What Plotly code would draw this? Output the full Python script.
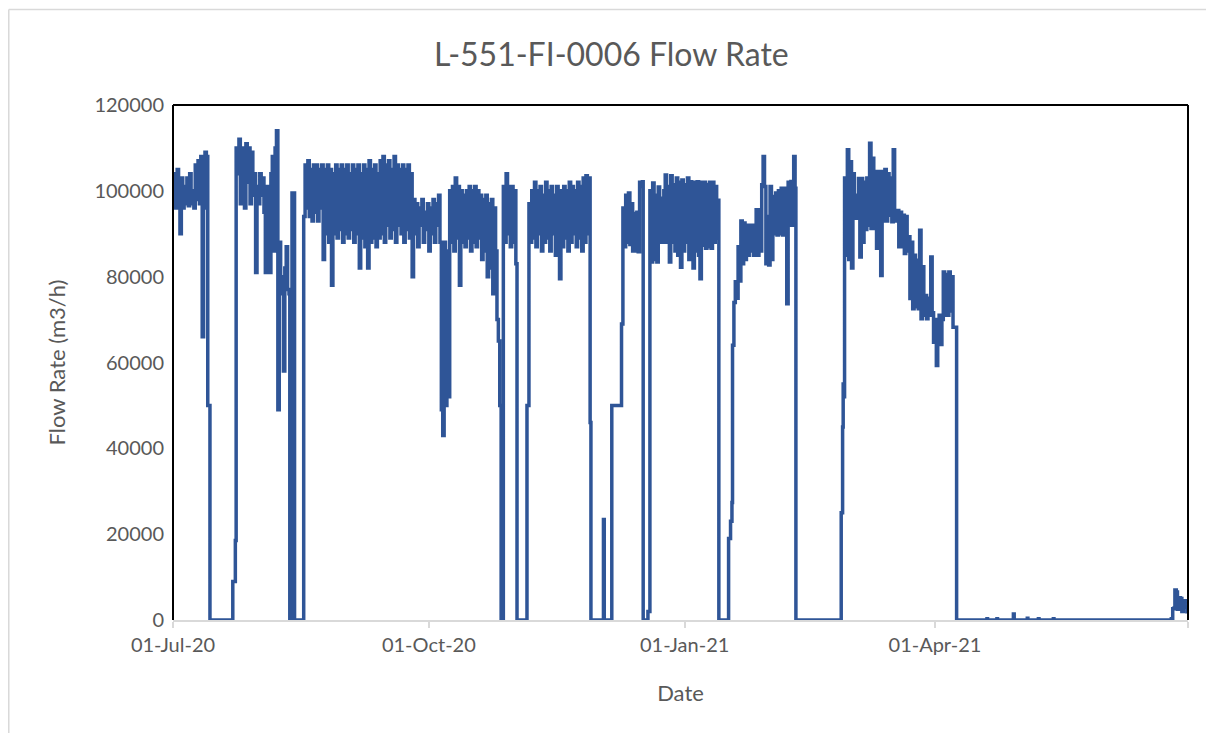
import pandas as pd
import plotly.graph_objects as go

# ---------------- data ----------------
SAMPLE_FREQ = "12h"   # logging interval inside operating runs

run1_start = "2020-07-01 00:00"
run1_flow = [98000, 104000, 96000, 105000, 97000, 90000, 103000, 96000, 101000, 97000,
             103000, 96500, 104000, 97000, 100000, 96000, 106000, 98000, 107000, 97000,
             108000, 66000, 96000, 109000, 108000, 50000, 50000]

run2_start = "2020-07-23 17:00"
run2_flow = [110000, 104000, 112000, 97000, 110000, 100000, 96000, 111000, 102000, 110000,
             97000, 109000, 99000, 104000, 81000, 101000, 97000, 104000, 99000, 103000,
             95000, 81000, 101000, 98000, 81000, 104000, 108000, 86000, 110000, 114000,
             49000, 88000, 80000, 76000, 58000, 82000, 87000, 77000, 76000]

run3_start = "2020-08-17 00:00"
run3_flow = [94000, 106000, 96000, 107000, 94000, 105000, 93000, 106000, 95000, 106000,
             93000, 105000, 96000, 106000, 84000, 105000, 90000, 106000, 88000, 105000,
             78000, 104000, 90000, 106000, 89000, 105000, 91000, 106000, 88000, 105000,
             90000, 106000, 89000, 104000, 91000, 106000, 88000, 105000, 90000, 106000,
             82000, 104000, 89000, 106000, 87000, 105000, 82000, 107000, 88000, 105000,
             89000, 106000, 87000, 104000, 89000, 107000, 90000, 108000, 88000, 106000,
             92000, 107000, 89000, 105000, 91000, 108000, 88000, 106000, 92000, 105000,
             90000, 106000, 88000, 105000, 91000, 106000, 89000, 104000, 80000, 98000,
             90000, 97000, 87000, 96000, 92000, 98000, 88000, 95000, 91000, 97000,
             86000, 96000, 90000, 98000, 88000, 97000, 92000, 99000, 88000, 49000,
             43000, 88000, 50000, 86000, 52000, 100000, 88000, 101000, 86000, 103000,
             89000, 101000, 78000, 100000, 88000, 99000, 87000, 100000, 89000, 101000,
             86000, 100000, 88000, 101000, 87000, 100000, 89000, 99000, 84000, 98000,
             86000, 99000, 80000, 97000, 82000, 98000, 76000, 96000, 86000, 70000,
             65000, 50000]

run4_start = "2020-10-27 19:00"
run4_flow = [101000, 88000, 104000, 90000, 101000, 87000, 101000, 88000, 100000, 83000]

run5_start = "2020-11-06 00:00"
run5_flow = [97000, 88000, 100000, 89000, 102000, 87000, 100000, 90000, 101000, 86000,
             99000, 88000, 102000, 89000, 100000, 86000, 101000, 90000, 99000, 85000,
             101000, 88000, 79500, 100000, 87000, 101000, 89000, 100000, 86000, 102000,
             88000, 101000, 90000, 100000, 87000, 102000, 89000, 101000, 86000, 103000,
             88000, 103500, 90000, 103000, 46000]

run6_start = "2020-12-05 19:00"
run6_flow = [50000, 50000, 50000, 50000, 50000, 50000, 50000, 69000, 96000, 87000,
             99000, 88000, 99500, 87500, 97000, 86000, 94700, 86000, 95000, 85800,
             102000, 101000, 102100]

run7_start = "2020-12-19 12:00"
run7_flow = [100000, 83400, 101800, 84000, 99000, 83400, 100900, 88000, 98300, 88000,
             100000, 103700, 88000, 101000, 83400, 103500, 88000, 101400, 86000, 103000,
             85000, 102000, 82200, 102500, 86000, 101400, 88000, 103000, 84000, 102100,
             87000, 82000, 102000, 86000, 102100, 85000, 79500, 102000, 87300, 102000,
             86600, 101500, 87000, 102000, 86600, 102000, 88000, 101000, 89000, 97800]

run8_start = "2021-01-18 05:00"
run8_flow = [64000, 74000, 78800, 75000, 87000, 79000, 93000, 83000, 92500, 84000,
             92000, 85000, 92000, 86000, 92000, 85000, 92000, 95600, 85000, 95600,
             86000, 101400, 108000, 101000, 83000, 94000, 82700, 101000, 84000, 98700,
             90000, 99500, 89700, 100000, 90000, 100600, 89700, 100600, 90000, 73700,
             102000, 92000, 102200, 92000, 108000, 100600]

run9_start = "2021-02-27 12:00"
run9_flow = [103000, 85000, 109600, 84000, 106800, 82000, 104000, 93600, 99000, 93600,
             102900, 84600, 102900, 88000, 102000, 91000, 103000, 92000, 111100, 91200,
             107600, 91200, 104500, 86600, 104500, 88000, 80300, 104500, 93000, 105000,
             93000, 104000, 94300, 103000, 92800, 109600, 95000, 93000, 95400, 87000,
             95000, 87000, 94300, 85400, 94000, 86000, 89300, 74900, 88000, 72500,
             85000, 73000, 83800, 72500, 90800, 70200, 82300, 71000, 75600, 70200,
             75000, 71000, 84600, 71600, 64700, 70000, 59300, 66000, 71000, 64200,
             70000, 81100, 71000, 80500, 71000, 81100, 72000, 80000, 68200, 68200,
             68200]

# shutdowns, ramps and isolated readings between the runs
event_times = [
    "2020-07-14 07:00", "2020-07-21 12:00", "2020-07-22 12:00", "2020-07-23 10:00",
    "2020-08-12 00:00", "2020-08-12 14:00", "2020-08-12 19:00", "2020-08-13 12:00",
    "2020-08-13 17:00", "2020-08-16 16:00",
    "2020-10-27 00:00", "2020-10-27 14:00",
    "2020-11-01 17:00", "2020-11-05 00:00", "2020-11-05 07:00", "2020-11-05 17:00",
    "2020-11-28 07:00", "2020-12-02 12:00", "2020-12-02 19:00", "2020-12-03 02:00",
    "2020-12-05 14:00",
    "2020-12-17 02:00", "2020-12-18 14:00", "2020-12-18 19:00", "2020-12-19 05:00",
    "2021-01-13 07:00", "2021-01-16 17:00", "2021-01-16 19:00", "2021-01-17 12:00",
    "2021-01-18 00:00",
    "2021-02-10 00:00", "2021-02-25 19:00", "2021-02-26 07:00", "2021-02-26 19:00",
    "2021-02-27 00:00", "2021-02-27 05:00",
    "2021-04-08 19:00",
    "2021-04-19 12:00", "2021-04-19 17:00", "2021-04-19 22:00",
    "2021-04-23 02:00", "2021-04-23 07:00", "2021-04-23 12:00",
    "2021-04-29 00:00", "2021-04-29 05:00", "2021-04-29 12:00",
    "2021-05-04 00:00", "2021-05-04 05:00", "2021-05-04 10:00",
    "2021-05-08 00:00", "2021-05-08 05:00", "2021-05-08 10:00",
    "2021-05-13 09:00", "2021-05-13 14:00", "2021-05-13 19:00",
    "2021-06-24 12:00", "2021-06-25 00:00", "2021-06-25 12:00", "2021-06-26 00:00",
    "2021-06-26 07:00", "2021-06-26 19:00", "2021-06-27 05:00", "2021-06-27 14:00",
    "2021-06-28 07:00", "2021-06-28 19:00", "2021-06-29 07:00", "2021-06-30 00:00",
    "2021-06-30 14:00",
]
event_flow = [
    0, 0, 9000, 18500,
    0, 0, 99500, 99500,
    0, 0,
    0, 0,
    0, 0, 50000, 50000,
    0, 0, 23400, 0,
    0,
    0, 0, 2000, 2000,
    0, 0, 19000, 23000,
    27400,
    0, 0, 25000, 45000,
    55000, 52000,
    0,
    0, 300, 0,
    0, 300, 0,
    0, 1400, 0,
    0, 400, 0,
    0, 300, 0,
    0, 300, 0,
    0, 300, 2600, 2800,
    7000, 6500, 2500, 5200,
    5000, 2000, 4500, 3000,
    1500,
]

x_range = ["2020-07-01", "2021-07-01"]
tick_dates = ["2020-07-01", "2020-10-01", "2021-01-01", "2021-04-01", "2021-07-01"]
tick_labels = ["01-Jul-20", "01-Oct-20", "01-Jan-21", "01-Apr-21", ""]
y_ticks = [0, 20000, 40000, 60000, 80000, 100000, 120000]

# ---------------- assemble the series ----------------
runs = [(run1_start, run1_flow), (run2_start, run2_flow), (run3_start, run3_flow),
        (run4_start, run4_flow), (run5_start, run5_flow), (run6_start, run6_flow),
        (run7_start, run7_flow), (run8_start, run8_flow), (run9_start, run9_flow)]
parts = []
for start, vals in runs:
    parts.append(pd.DataFrame({"t": pd.date_range(start, periods=len(vals), freq=SAMPLE_FREQ),
                               "v": vals}))
parts.append(pd.DataFrame({"t": pd.to_datetime(event_times), "v": event_flow}))
series = pd.concat(parts).sort_values("t").reset_index(drop=True)

FONT = "Lato"
GREY = "#595959"

fig = go.Figure()
fig.add_trace(go.Scatter(x=series["t"], y=series["v"], mode="lines",
                         line=dict(color="#2F5597", width=3.5, shape="hv"),
                         hoverinfo="x+y"))

fig.update_layout(
    width=1214, height=733,
    margin=dict(l=165, r=34, t=97, b=121),
    paper_bgcolor="white", plot_bgcolor="white",
    showlegend=False,
    title=dict(text="L-551-FI-0006 Flow Rate", x=0.497, xanchor="center",
               y=0.936, yanchor="middle",
               font=dict(family=FONT, size=32, color=GREY)),
    xaxis=dict(type="date", range=x_range, tickvals=tick_dates, ticktext=tick_labels,
               ticks="outside", ticklen=6, tickcolor="#D9D9D9", tickwidth=1.5,
               showline=True, linecolor="#D9D9D9", linewidth=1.5,
               showgrid=False, zeroline=False,
               tickfont=dict(family=FONT, size=20, color=GREY),
               title=dict(text="Date", standoff=31,
                          font=dict(family=FONT, size=22, color=GREY))),
    yaxis=dict(range=[0, 120000], tickvals=y_ticks, tickformat="d",
               showgrid=False, zeroline=False, showline=False, ticks="",
               ticklabelstandoff=8,
               tickfont=dict(family=FONT, size=20, color=GREY),
               title=dict(text="Flow Rate (m3/h)", standoff=22,
                          font=dict(family=FONT, size=22, color=GREY))),
)

# black plot-area frame (top, left, right)
for x0, y0, x1, y1 in [(0, 1, 1, 1), (0, 0, 0, 1), (1, 0, 1, 1)]:
    fig.add_shape(type="line", xref="paper", yref="paper", x0=x0, y0=y0, x1=x1, y1=y1,
                  line=dict(color="black", width=2), layer="above")
# light grey chart-area border
for x0, y0, x1, y1 in [(-0.1618, 1.1854, 1.0241, 1.1854),
                       (-0.1618, -0.25, -0.1618, 1.1854),
                       (1.0241, -0.25, 1.0241, 1.1854)]:
    fig.add_shape(type="line", xref="paper", yref="paper", x0=x0, y0=y0, x1=x1, y1=y1,
                  line=dict(color="#D9D9D9", width=1.5), layer="below")

fig.write_html("out.html")
